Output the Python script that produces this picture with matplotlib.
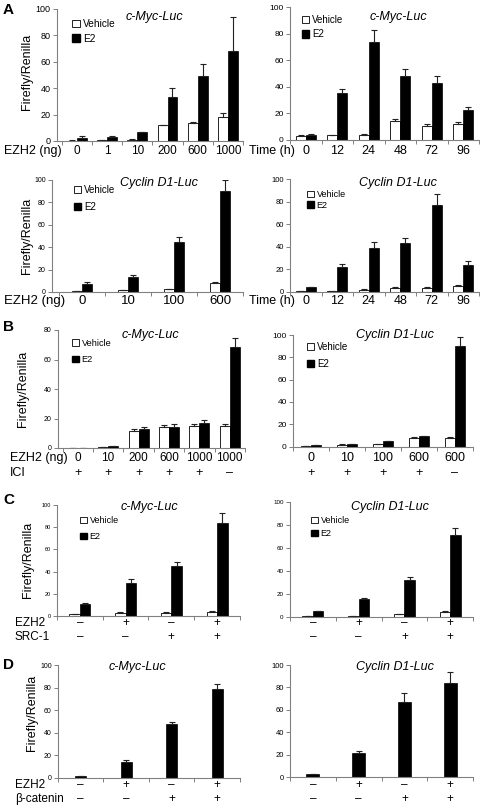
import numpy as np
import matplotlib.pyplot as plt
from matplotlib.patches import Patch
from matplotlib.transforms import blended_transform_factory

plt.rcParams['font.family'] = ['Liberation Sans', 'DejaVu Sans']

# ---- data ----
# A, top row: c-Myc-Luc
ezh2_dose_a1 = ['0', '1', '10', '200', '600', '1000']
myc_dose_veh = [0.3, 0.6, 1.0, 12, 14, 18]
myc_dose_veh_err = [0.2, 0.2, 0.3, 0.5, 0.5, 3.5]
myc_dose_e2 = [2.5, 3.0, 6.5, 33, 49, 68]
myc_dose_e2_err = [1.2, 0.5, 0.3, 7.5, 9, 26]

time_h = ['0', '12', '24', '48', '72', '96']
myc_time_veh = [3, 3.5, 4, 14, 10.5, 12]
myc_time_veh_err = [0.5, 0.5, 0.5, 2, 1.3, 1.5]
myc_time_e2 = [4, 35, 74, 48, 43, 22.5]
myc_time_e2_err = [0.5, 3.5, 9, 5.5, 5, 2.5]

# A, bottom row: Cyclin D1-Luc
ezh2_dose_a2 = ['0', '10', '100', '600']
ccnd_dose_veh = [0.5, 1.5, 2.5, 8]
ccnd_dose_veh_err = [0.2, 0.3, 0.3, 1.0]
ccnd_dose_e2 = [7, 13.5, 45, 90]
ccnd_dose_e2_err = [1.5, 1.5, 4, 10]

ccnd_time_veh = [1, 1, 2, 3.5, 3.5, 5]
ccnd_time_veh_err = [0.3, 0.3, 0.4, 0.8, 0.6, 1.0]
ccnd_time_e2 = [4, 22, 39, 43, 77, 24]
ccnd_time_e2_err = [0.5, 2.5, 5, 5, 10, 3]

# B: ICI
ezh2_b_myc = ['0', '10', '200', '600', '1000', '1000']
ici_myc = ['+', '+', '+', '+', '+', '–']
myc_ici_veh = [0.2, 0.6, 11.5, 14, 15, 15]
myc_ici_veh_err = [0.1, 0.2, 1.5, 1.5, 1.5, 1.5]
myc_ici_e2 = [0.2, 1.2, 13, 14.5, 17, 68.5]
myc_ici_e2_err = [0.1, 0.2, 1, 2, 2, 6]

ezh2_b_ccnd = ['0', '10', '100', '600', '600']
ici_ccnd = ['+', '+', '+', '+', '–']
ccnd_ici_veh = [0.5, 1.5, 2, 7.5, 7.5]
ccnd_ici_veh_err = [0.1, 0.3, 0.3, 0.8, 0.8]
ccnd_ici_e2 = [1, 2, 4.5, 9, 90]
ccnd_ici_e2_err = [0.2, 0.3, 0.3, 0.8, 8]

# C: SRC-1
ezh2_c = ['–', '+', '–', '+']
src1_c = ['–', '–', '+', '+']
myc_src_veh = [1.5, 3, 3, 4]
myc_src_veh_err = [0.5, 0.6, 0.6, 0.8]
myc_src_e2 = [10.5, 30, 45, 83.5]
myc_src_e2_err = [1, 3.5, 4, 9]
ccnd_src_veh = [1, 1, 2.5, 4]
ccnd_src_veh_err = [0.3, 0.3, 0.5, 1.2]
ccnd_src_e2 = [5, 15.5, 32.5, 71]
ccnd_src_e2_err = [0.5, 1, 2.5, 6]

# D: beta-catenin
ezh2_d = ['–', '+', '–', '+']
bcat_d = ['–', '–', '+', '+']
myc_bcat = [1.5, 14.5, 47.5, 78.5]
myc_bcat_err = [0.3, 1, 2.5, 4.5]
ccnd_bcat = [2.5, 21, 67, 84]
ccnd_bcat_err = [0.5, 2.5, 8, 9.5]

W, H = 481, 806
fig = plt.figure(figsize=(W / 100, H / 100), dpi=100)


def fx(x):
    return x / W


def fy(y):
    return 1 - y / H


def panel(box, veh, veh_err, e2, e2_err, bw, ymax, ystep, ytick_fs, xlim=None):
    x0, x1, yt, yb = box
    ax = fig.add_axes([fx(x0), fy(yb), (x1 - x0) / W, (yb - yt) / H])
    n = len(e2)
    x = np.arange(n)
    eb = dict(fmt='none', ecolor='#222222', elinewidth=0.8, capsize=2.2, capthick=0.8)
    if veh is None:
        ax.bar(x, e2, bw, color='black', edgecolor='black', lw=0.5)
        ax.errorbar(x, e2, yerr=[np.zeros(n), e2_err], **eb)
    else:
        ax.bar(x - bw / 2, veh, bw, color='white', edgecolor='black', lw=0.6)
        ax.errorbar(x - bw / 2, veh, yerr=[np.zeros(n), veh_err], **eb)
        ax.bar(x + bw / 2, e2, bw, color='black', edgecolor='black', lw=0.5)
        ax.errorbar(x + bw / 2, e2, yerr=[np.zeros(n), e2_err], **eb)
    ax.set_ylim(0, ymax)
    ax.set_xlim(xlim if xlim else (-0.5, n - 0.5))
    ax.set_yticks(np.arange(0, ymax + 1, ystep))
    ax.set_xticks(x)
    ax.set_xticklabels([])
    ax.set_xticks(np.arange(n + 1) - 0.5, minor=True)
    ax.tick_params(axis='x', which='major', length=0)
    ax.tick_params(axis='x', which='minor', length=3, color='#808080', width=0.7)
    ax.tick_params(axis='y', length=3, color='#808080', width=0.7, labelsize=ytick_fs, pad=1.5)
    for s in ['top', 'right']:
        ax.spines[s].set_visible(False)
    for s in ['left', 'bottom']:
        ax.spines[s].set_color('#808080')
        ax.spines[s].set_linewidth(0.8)
    return ax


def row(ax, y_px, labels, fs, head=None, head_x=None, head_fs=9.5):
    tr = blended_transform_factory(ax.transData, fig.transFigure)
    for i, s in enumerate(labels):
        ax.text(i, fy(y_px), s, transform=tr, ha='center', va='center', fontsize=fs)
    if head:
        fig.text(fx(head_x), fy(y_px), head, ha='left', va='center', fontsize=head_fs)


def title(x, y, s):
    fig.text(fx(x), fy(y), s, ha='center', va='center', fontsize=9, style='italic')


def legend(ax, x, y, fs, sp):
    handles = [Patch(facecolor='white', edgecolor='black', lw=0.6),
               Patch(facecolor='black', edgecolor='black')]
    ax.legend(handles, ['Vehicle', 'E2'], loc='upper left',
              bbox_to_anchor=(fx(x), fy(y)), bbox_transform=fig.transFigure,
              frameon=False, fontsize=fs, handlelength=0.75, handleheight=0.75,
              handletextpad=0.3, borderpad=0, borderaxespad=0, labelspacing=sp)


def ylab(x, y):
    fig.text(fx(x), fy(y), 'Firefly/Renilla', rotation=90, ha='center', va='center', fontsize=9)


def letter(x, y, s):
    fig.text(fx(x), fy(y), s, ha='left', va='center', fontsize=11, fontweight='bold')


# ---- A ----
ax = panel((57, 243, 9, 141), myc_dose_veh, myc_dose_veh_err, myc_dose_e2, myc_dose_e2_err,
           0.33, 100, 20, 6.5, xlim=(-0.66, 5.5))
row(ax, 151, ezh2_dose_a1, 8.5, 'EZH2 (ng)', 4, 9)
title(154, 17, 'c-Myc-Luc')
legend(ax, 72, 19, 7.3, 0.45)
ylab(27, 72)

ax = panel((290, 479, 7, 140), myc_time_veh, myc_time_veh_err, myc_time_e2, myc_time_e2_err,
           0.32, 100, 20, 6)
row(ax, 151, time_h, 9, 'Time (h)', 249, 9)
title(398, 17, 'c-Myc-Luc')
legend(ax, 302, 15, 7, 0.45)

ax = panel((52, 243, 180, 292), ccnd_dose_veh, ccnd_dose_veh_err, ccnd_dose_e2, ccnd_dose_e2_err,
           0.22, 100, 20, 5, xlim=(-0.65, 3.5))
row(ax, 301, ezh2_dose_a2, 9.5, 'EZH2 (ng)', 4)
title(159, 183, 'Cyclin D1-Luc')
legend(ax, 74, 185, 7, 0.7)
ylab(27, 236)
letter(3, 10, 'A')

ax = panel((290, 479, 179, 292), ccnd_time_veh, ccnd_time_veh_err, ccnd_time_e2, ccnd_time_e2_err,
           0.32, 100, 20, 5.5)
row(ax, 301, time_h, 9, 'Time (h)', 249, 9)
title(398, 183, 'Cyclin D1-Luc')
legend(ax, 307, 190, 6.5, 0.2)

# ---- B ----
ax = panel((58, 245, 330, 448), myc_ici_veh, myc_ici_veh_err, myc_ici_e2, myc_ici_e2_err,
           0.33, 80, 20, 5, xlim=(-0.65, 5.5))
row(ax, 458, ezh2_b_myc, 8.5, 'EZH2 (ng)', 10, 9)
row(ax, 473, ici_myc, 9, 'ICI', 10, 9)
title(150, 335, 'c-Myc-Luc')
legend(ax, 72, 339, 6.6, 0.8)
ylab(23, 389)
letter(3, 327, 'B')

ax = panel((293, 473, 335, 446.5), ccnd_ici_veh, ccnd_ici_veh_err, ccnd_ici_e2, ccnd_ici_e2_err,
           0.28, 100, 20, 6)
row(ax, 458, ezh2_b_ccnd, 9)
row(ax, 473, ici_ccnd, 9)
title(395, 335, 'Cyclin D1-Luc')
legend(ax, 307, 342, 7, 0.75)

# ---- C ----
ax = panel((57, 240, 505, 616), myc_src_veh, myc_src_veh_err, myc_src_e2, myc_src_e2_err,
           0.23, 100, 20, 4)
row(ax, 623, ezh2_c, 8.5, 'EZH2', 15, 8.5)
row(ax, 637, src1_c, 8.5, 'SRC-1', 15, 8.5)
title(149, 507, 'c-Myc-Luc')
legend(ax, 80, 516, 6.5, 0.8)
ylab(28, 560)
letter(3, 500, 'C')

ax = panel((290, 473, 502, 617), ccnd_src_veh, ccnd_src_veh_err, ccnd_src_e2, ccnd_src_e2_err,
           0.23, 100, 20, 4.5)
row(ax, 623, ezh2_c, 8.5)
row(ax, 637, src1_c, 8.5)
title(390, 507, 'Cyclin D1-Luc')
legend(ax, 311, 516, 6.5, 0.45)

# ---- D ----
ax = panel((58, 240, 665, 778), None, None, myc_bcat, myc_bcat_err, 0.25, 100, 20, 5)
row(ax, 785, ezh2_d, 8.5, 'EZH2', 15, 8.5)
row(ax, 799, bcat_d, 8.5, 'β-catenin', 15, 8.5)
title(137, 667, 'c-Myc-Luc')
ylab(32, 713)
letter(3, 665, 'D')

ax = panel((290, 473, 665, 777), None, None, ccnd_bcat, ccnd_bcat_err, 0.28, 100, 20, 5.5)
row(ax, 785, ezh2_d, 8.5)
row(ax, 799, bcat_d, 8.5)
title(395, 667, 'Cyclin D1-Luc')

fig.savefig('out.png', dpi=100)
